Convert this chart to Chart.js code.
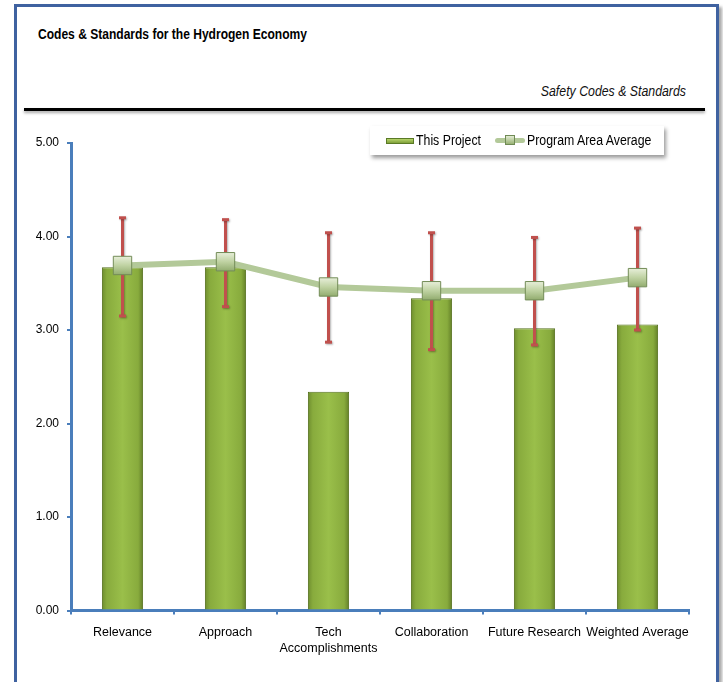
<!DOCTYPE html>
<html>
<head>
<meta charset="utf-8">
<script src="https://cdn.jsdelivr.net/npm/chart.js"></script>
<style>
  body { margin: 0; background: #fff; font-family: "Liberation Sans", Arial, sans-serif; }
  #wrap { position: relative; width: 723px; height: 682px; overflow: hidden; }
  #frame { position: absolute; left: 14px; top: 4px; width: 699px; height: 700px; border: 3px solid #3f62a0; box-shadow: 3px 3px 3px rgba(0,0,0,0.35); background: #fff; }
  #title { position: absolute; left: 38px; top: 26px; font-size: 14px; font-weight: bold; color: #000; white-space: nowrap; transform: scaleX(0.86); transform-origin: left center; }
  #subtitle { position: absolute; right: 37px; top: 83px; font-size: 14px; font-style: italic; color: #111; white-space: nowrap; transform: scaleX(0.88); transform-origin: right center; }
  #rule { position: absolute; left: 24px; top: 108px; width: 681px; height: 3px; background: #000; box-shadow: 0 2px 3px rgba(0,0,0,0.35); }
  #legend { position: absolute; left: 370px; top: 126px; width: 294px; height: 29px; background: #fff; box-shadow: 2px 3px 4px rgba(0,0,0,0.4); font-size: 14px; color: #000; white-space: nowrap; }
  #legend span { position: absolute; top: 6px; transform: scaleX(0.88); transform-origin: left center; }
  .sw-bar { position: absolute; left: 16px; top: 12px; width: 28px; height: 6px; background: linear-gradient(#b6d46a, #7fa03a); border: 1px solid #5a7a26; box-sizing: border-box; }
  .sw-line { position: absolute; left: 125px; top: 12px; width: 30px; height: 5px; background: #b3c999; border-radius: 3px; }
  .sw-mark { position: absolute; left: 135px; top: 9px; width: 10px; height: 10px; background: linear-gradient(#e2ebd2, #98b274); border: 1px solid #6f8a55; box-sizing: border-box; }
  canvas { position: absolute; left: 0; top: 0; }
</style>
</head>
<body>
<div id="wrap">
  <div id="frame"></div>
  <div id="title">Codes &amp; Standards for the Hydrogen Economy</div>
  <div id="subtitle">Safety Codes &amp; Standards</div>
  <div id="rule"></div>
  <canvas id="chart" width="723" height="682"></canvas>
  <div id="legend">
    <div class="sw-bar"></div><span style="left:46px">This Project</span>
    <div class="sw-line"></div><div class="sw-mark"></div><span style="left:157px">Program Area Average</span>
  </div>
</div>
<script>
const categories = ['Relevance', 'Approach', ['Tech', 'Accomplishments'], 'Collaboration', 'Future Research', 'Weighted Average'];
const projectScores = [3.67, 3.67, 2.34, 3.34, 3.02, 3.06];
const programAverage = [3.69, 3.73, 3.46, 3.42, 3.42, 3.56];
const errorHigh = [4.20, 4.18, 4.04, 4.04, 3.99, 4.09];
const errorLow = [3.15, 3.25, 2.87, 2.79, 2.84, 3.00];
const yTicks = [0, 1, 2, 3, 4, 5];

const FONT = '"Liberation Sans", Arial, sans-serif';
const BAR_PCT = 0.4;

function barFill(ctx) {
  const chart = ctx.chart;
  const x = chart.scales.x;
  if (!x || ctx.dataIndex === undefined) return '#8db343';
  const cx = x.getPixelForValue(ctx.dataIndex);
  const w = (x.width / categories.length) * BAR_PCT;
  if (!isFinite(cx) || !isFinite(w)) return '#8db343';
  const g = chart.ctx.createLinearGradient(cx - w / 2, 0, cx + w / 2, 0);
  g.addColorStop(0, '#6e8d2e');
  g.addColorStop(0.12, '#88ab3d');
  g.addColorStop(0.5, '#9abf4a');
  g.addColorStop(0.88, '#88ab3d');
  g.addColorStop(1, '#637f28');
  return g;
}

function markerFill(ctx) {
  const chart = ctx.chart;
  const y = chart.scales.y;
  if (!y || ctx.dataIndex === undefined) return '#b9cc9a';
  const cy = y.getPixelForValue(programAverage[ctx.dataIndex]);
  if (!isFinite(cy)) return '#b9cc9a';
  const g = chart.ctx.createLinearGradient(0, cy - 9, 0, cy + 9);
  g.addColorStop(0, '#e6eed8');
  g.addColorStop(0.5, '#bfd2a2');
  g.addColorStop(1, '#93ad70');
  return g;
}

const errorBars = {
  id: 'errorBars',
  afterDatasetDraw(chart, args) {
    if (args.index !== 0) return;
    const c = chart.ctx;
    const x = chart.scales.x, y = chart.scales.y;
    c.save();
    c.strokeStyle = '#c0504d';
    c.fillStyle = '#c0504d';
    c.lineWidth = 3;
    c.shadowColor = 'rgba(0,0,0,0.3)';
    c.shadowOffsetX = 1;
    c.shadowOffsetY = 1;
    c.shadowBlur = 2;
    for (let i = 0; i < categories.length; i++) {
      const px = x.getPixelForValue(i);
      const top = y.getPixelForValue(errorHigh[i]);
      const bot = y.getPixelForValue(errorLow[i]);
      c.beginPath();
      c.moveTo(px, top);
      c.lineTo(px, bot);
      c.stroke();
      c.fillRect(px - 3.5, top - 1.5, 7, 3);
      c.fillRect(px - 3.5, bot - 1.5, 7, 3);
    }
    c.restore();
  }
};

new Chart(document.getElementById('chart'), {
  data: {
    labels: categories,
    datasets: [
      {
        type: 'bar',
        label: 'This Project',
        data: projectScores,
        backgroundColor: barFill,
        borderColor: '#56721f',
        borderWidth: 1,
        barPercentage: BAR_PCT,
        categoryPercentage: 1,
        order: 2
      },
      {
        type: 'line',
        label: 'Program Area Average',
        data: programAverage,
        borderColor: '#b3c999',
        borderWidth: 6,
        pointStyle: 'rect',
        pointRadius: 13,
        pointBackgroundColor: markerFill,
        pointBorderColor: '#738c58',
        pointBorderWidth: 1,
        tension: 0,
        order: 1
      }
    ]
  },
  options: {
    responsive: false,
    animation: false,
    layout: { padding: { left: 0, right: 34, top: 143, bottom: 0 } },
    plugins: {
      legend: { display: false },
      tooltip: { enabled: false }
    },
    scales: {
      x: {
        offset: true,
        grid: { display: true, drawOnChartArea: false, color: '#4a7ebb', lineWidth: 2, tickLength: 4, offset: true },
        border: { color: '#4a7ebb', width: 3 },
        ticks: { color: '#000', font: { family: FONT, size: 12.5, lineHeight: 1.3 }, autoSkip: false, maxRotation: 0, padding: 10 },
        afterFit(s) { s.height = 71.5; }
      },
      y: {
        min: 0,
        max: 5,
        afterBuildTicks(s) { s.ticks = yTicks.map(v => ({ value: v })); },
        grid: { display: true, drawOnChartArea: false, color: '#4a7ebb', lineWidth: 2, tickLength: 4 },
        border: { color: '#4a7ebb', width: 3 },
        ticks: { color: '#000', font: { family: FONT, size: 12 }, padding: 8, callback: v => v.toFixed(2) },
        afterFit(s) { s.width = 71; }
      }
    }
  },
  plugins: [errorBars]
});
</script>
</body>
</html>
